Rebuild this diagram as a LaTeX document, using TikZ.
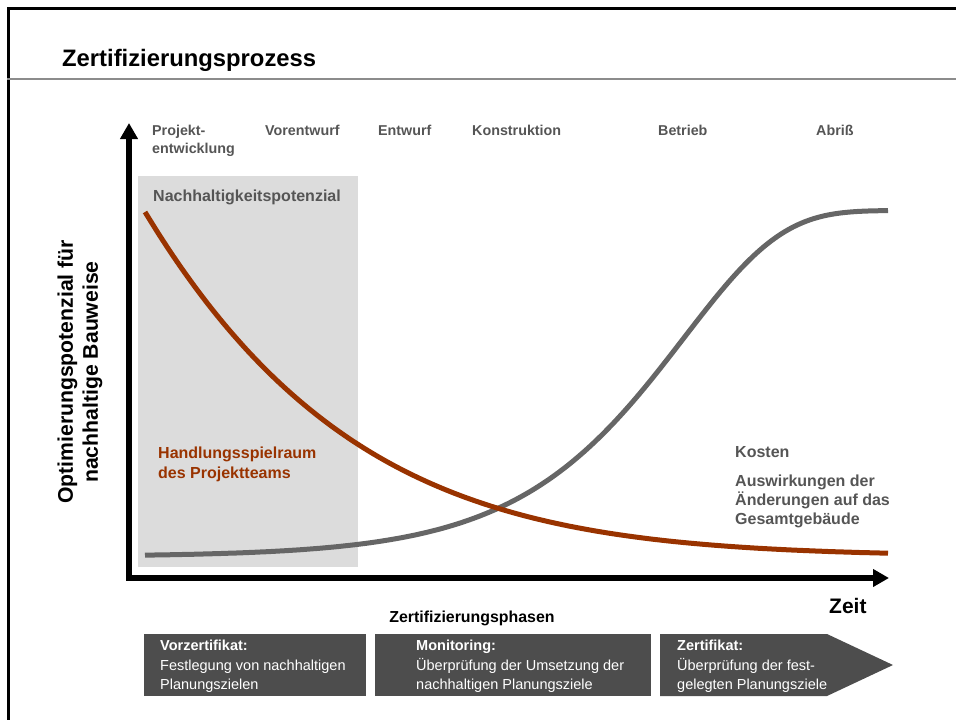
\documentclass[tikz,border=0pt]{standalone}
\usepackage{fontspec}
\setmainfont{Liberation Sans}
\usetikzlibrary{arrows.meta}
\definecolor{curvered}{HTML}{993300}
\definecolor{curvegray}{HTML}{666666}
\definecolor{labelgray}{HTML}{555555}
\definecolor{shade}{HTML}{DCDCDC}
\definecolor{boxgray}{HTML}{4D4D4D}
\definecolor{divider}{HTML}{8C8C8C}
\tikzset{
  phase/.style={anchor=base west, inner sep=0pt, text=labelgray, font=\fontsize{14.3}{18}\selectfont\bfseries},
  biglabel/.style={anchor=base west, inner sep=0pt, align=left, font=\fontsize{16}{19.5}\selectfont\bfseries},
  axis/.style={line width=5.5pt, -{Triangle[length=16pt,width=17pt]}},
  curve/.style={line width=5pt},
  boxhead/.style={anchor=base west, inner sep=0pt, text=white, font=\fontsize{14.5}{19}\selectfont\bfseries},
  boxbody/.style={anchor=base west, inner sep=0pt, text=white, align=left, font=\fontsize{14.5}{19}\selectfont},
  phasebox/.style={anchor=north west, fill=boxgray, inner sep=0pt},
}
\begin{document}
\begin{tikzpicture}[x=1pt,y=-1pt]
\useasboundingbox (0,0) rectangle (956,720);
% frame
\draw[line width=3pt] (8.5,720) -- (8.5,8.5) -- (956,8.5);
\draw[line width=2pt, divider] (7,79) -- (956,79);
\node[anchor=base west, inner sep=0pt, font=\fontsize{23.8}{28}\selectfont\bfseries] (title) at (62,66) {Zertifizierungsprozess};

% shaded region
\node[anchor=north west, fill=shade, inner sep=0pt, minimum width=220pt, minimum height=391pt] (potbox) at (138,176) {};
\node[biglabel, text=labelgray] (pot) at (153,201) {Nachhaltigkeitspotenzial};

% axes
\coordinate (origin) at (129,578);
\coordinate (ytip) at (129,123);
\coordinate (xtip) at (889,578);
\draw[axis] ([yshift=2.75pt]origin) -- (ytip);
\draw[axis] ([xshift=-2.75pt]origin) -- (xtip);

% phase labels
\node[phase, align=left] (p1) at (152,153) {Projekt-\\entwicklung};
\node[phase] (p2) at (265,135) {Vorentwurf};
\node[phase] (p3) at (378,135) {Entwurf};
\node[phase] (p4) at (472,135) {Konstruktion};
\node[phase] (p5) at (658,135) {Betrieb};
\node[phase] (p6) at (816,135) {Abriß};

% curves
\draw[curve, curvegray] plot[domain=145:888, samples=150, smooth]
  (\x, {556.5-346*(1-exp(-exp(0.0102*(\x-684))))});
\draw[curve, curvered] plot[domain=145:888, samples=150, smooth]
  (\x, {556-344*exp(-0.00481*(\x-145)-2.24*((\x-145)/1000)^2)});

% curve labels
\node[biglabel, text=curvered] (hand) at (158,478) {Handlungsspielraum\\des Projektteams};
\node[biglabel, text=labelgray] (kosten) at (735,457.5) {Kosten};
\node[biglabel, text=labelgray, font=\fontsize{16}{19}\selectfont\bfseries] (ausw) at (735,524.5) {Auswirkungen der\\Änderungen auf das\\Gesamtgebäude};

% y axis label
\node[rotate=90, align=center, inner sep=0pt, font=\fontsize{21.2}{25}\selectfont\bfseries] (ylab) at (80,372) {Optimierungspotenzial für\\nachhaltige Bauweise};

\node[anchor=base west, inner sep=0pt, font=\fontsize{21}{25}\selectfont\bfseries] (zeit) at (829,613) {Zeit};
\node[anchor=base, inner sep=0pt, font=\fontsize{15.9}{19}\selectfont\bfseries] (zphasen) at (472,622) {Zertifizierungsphasen};

% phase boxes
\node[phasebox, minimum width=222pt, minimum height=62pt] (b1) at (144,634) {};
\node[phasebox, minimum width=276pt, minimum height=62pt] (b2) at (375,634) {};
\fill[boxgray] (660,634) coordinate (b3) -- (827,634) -- (893,665) -- (827,696) -- (660,696) -- cycle;

\node[boxhead] (h1) at (160,650) {Vorzertifikat:};
\node[boxbody] (t1) at (160,689) {Festlegung von nachhaltigen\\Planungszielen};
\node[boxhead] (h2) at (416,650) {Monitoring:};
\node[boxbody] (t2) at (416,689) {Überprüfung der Umsetzung der\\nachhaltigen Planungsziele};
\node[boxhead] (h3) at (677,650) {Zertifikat:};
\node[boxbody] (t3) at (677,689) {Überprüfung der fest-\\gelegten Planungsziele};
\end{tikzpicture}
\end{document}
